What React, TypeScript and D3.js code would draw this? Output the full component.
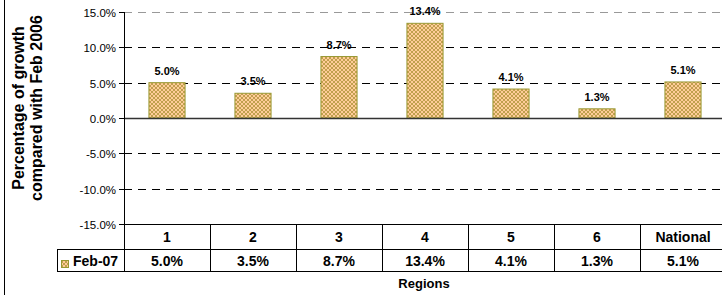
import React from 'react';
import * as d3 from 'd3';

const categories = ['1', '2', '3', '4', '5', '6', 'National'];
const seriesName = 'Feb-07';
const growth = [5.0, 3.5, 8.7, 13.4, 4.1, 1.3, 5.1];
const tickValues = [15, 10, 5, 0, -5, -10, -15];

const W = 722;
const H = 295;
const plot = { left: 124, top: 12, bottom: 224 };
const colW = 86;
const row1 = 25;
const row2 = 22;

const fontFamily = 'Liberation Sans, Arial, sans-serif';

const App: React.FC = () => {
  const x = d3.scaleBand<string>()
    .domain(categories)
    .range([plot.left, plot.left + colW * categories.length])
    .paddingInner(0.58)
    .paddingOuter(0.29);
  const y = d3.scaleLinear().domain([-15, 15]).range([plot.bottom, plot.top]);
  const fmt = (v: number) => `${v.toFixed(1)}%`;
  const right = W;
  const tableTop = plot.bottom;
  const t2 = tableTop + row1;
  const t3 = t2 + row2;
  const legendLeft = 57;

  return (
    <svg width={W} height={H} style={{ position: 'absolute', left: 0, top: 0, background: '#fff' }}
      fontFamily={fontFamily}>
      <defs>
        <pattern id="hatch" patternUnits="userSpaceOnUse" width="4" height="4">
          <rect width="4" height="4" fill="#ffcc99" />
          <path d="M0,0 L4,4 M4,0 L0,4" stroke="#b99b45" strokeWidth="0.9" />
        </pattern>
      </defs>
      {/* outer frame left edge */}
      <line x1={4.5} x2={4.5} y1={0} y2={H} stroke="#000" />

      {/* gridlines */}
      {tickValues.map(t => {
        const yy = Math.round(y(t)) + 0.5;
        if (t === 15) return <line key={t} x1={plot.left} x2={right} y1={yy} y2={yy} stroke="#999" strokeDasharray="8,6" />;
        if (t === -15 || t === 0) return null;
        return <line key={t} x1={plot.left} x2={right} y1={yy} y2={yy} stroke="#000" strokeDasharray="8,6" />;
      })}

      {/* bars */}
      {categories.map((c, i) => {
        const v = growth[i];
        const y0 = y(Math.max(0, v));
        const h = Math.abs(y(v) - y(0));
        return (
          <g key={c}>
            <rect x={x(c)} y={y0} width={x.bandwidth()} height={h}
              fill="url(#hatch)" stroke="#999933" strokeWidth={1} />
            <text x={(x(c) ?? 0) + x.bandwidth() / 2} y={y0 - 8} textAnchor="middle"
              fontSize={11} fontWeight="bold">{fmt(v)}</text>
          </g>
        );
      })}

      {/* zero line */}
      <line x1={plot.left} x2={right} y1={Math.round(y(0)) + 0.5} y2={Math.round(y(0)) + 0.5} stroke="#333" strokeWidth={1.5} />

      {/* y axis */}
      <line x1={plot.left + 0.5} x2={plot.left + 0.5} y1={plot.top} y2={t3} stroke="#000" />
      {tickValues.map(t => {
        const yy = Math.round(y(t)) + 0.5;
        return (
          <g key={'tk' + t}>
            <line x1={plot.left - 5} x2={plot.left} y1={yy} y2={yy} stroke="#000" />
            <text x={plot.left - 8} y={yy + 4} textAnchor="end" fontSize={11.5}>{fmt(t)}</text>
          </g>
        );
      })}

      {/* data table */}
      <line x1={plot.left} x2={right} y1={tableTop + 0.5} y2={tableTop + 0.5} stroke="#000" />
      <line x1={legendLeft} x2={right} y1={t2 + 0.5} y2={t2 + 0.5} stroke="#000" />
      <line x1={legendLeft} x2={right} y1={t3 + 0.5} y2={t3 + 0.5} stroke="#000" />
      <line x1={legendLeft + 0.5} x2={legendLeft + 0.5} y1={t2} y2={t3} stroke="#000" />
      {categories.map((c, i) => {
        const cx = plot.left + colW * i + colW / 2;
        const xr = plot.left + colW * (i + 1) + 0.5;
        return (
          <g key={'tb' + c}>
            {i < categories.length - 1 && <line x1={xr} x2={xr} y1={tableTop} y2={t3} stroke="#000" />}
            <text x={cx} y={tableTop + 18} textAnchor="middle" fontSize={14} fontWeight="bold">{c}</text>
            <text x={cx} y={t2 + 17} textAnchor="middle" fontSize={14} fontWeight="bold">{fmt(growth[i])}</text>
          </g>
        );
      })}
      <rect x={61.5} y={260.5} width={7} height={7} fill="url(#hatch)" stroke="#999933" />
      <text x={73} y={t2 + 17} fontSize={14} fontWeight="bold">{seriesName}</text>

      {/* axis titles */}
      <text x={424} y={288} textAnchor="middle" fontSize={13} fontWeight="bold">Regions</text>
      <g transform="translate(24,108) rotate(-90)">
        <text x={0} y={0} textAnchor="middle" fontSize={16} fontWeight="bold">Percentage of growth</text>
        <text x={0} y={18} textAnchor="middle" fontSize={16} fontWeight="bold">compared with Feb 2006</text>
      </g>
    </svg>
  );
};

export default App;
